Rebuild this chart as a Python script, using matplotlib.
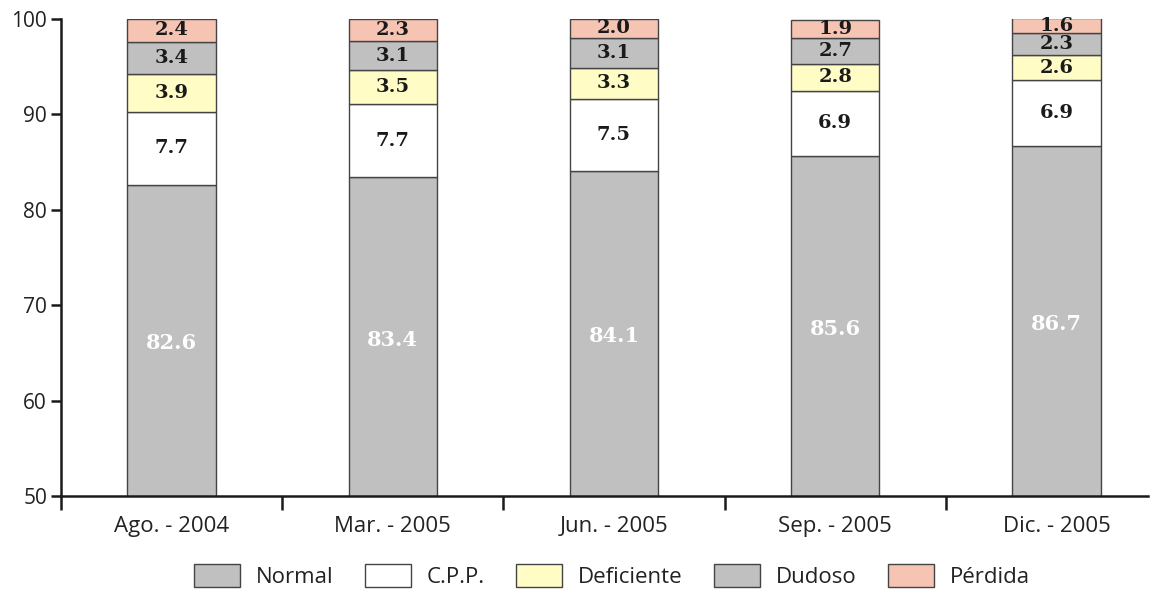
import matplotlib
matplotlib.use("Agg")
import matplotlib.pyplot as plt
import numpy as np

periods = ["Ago. - 2004", "Mar. - 2005", "Jun. - 2005", "Sep. - 2005", "Dic. - 2005"]
series_names = ["Normal", "C.P.P.", "Deficiente", "Dudoso", "Pérdida"]
normal = [82.6, 83.4, 84.1, 85.6, 86.7]
cpp = [7.7, 7.7, 7.5, 6.9, 6.9]
deficiente = [3.9, 3.5, 3.3, 2.8, 2.6]
dudoso = [3.4, 3.1, 3.1, 2.7, 2.3]
perdida = [2.4, 2.3, 2.0, 1.9, 1.6]

colors = ["#c0c0c0", "#ffffff", "#fffcc6", "#c0c0c0", "#f6c4b3"]
series = [normal, cpp, deficiente, dudoso, perdida]

fig = plt.figure(figsize=(11.61, 5.92), dpi=100)
ax = fig.add_axes([0.0525, 0.162, 0.9365, 0.806])

x = np.arange(len(periods))
ymin = 50
bottom = np.zeros(len(periods))
label_font = dict(family="DejaVu Serif", fontweight="bold")
for i, (name, vals, col) in enumerate(zip(series_names, series, colors)):
    vals = np.array(vals)
    ax.bar(x, vals, width=0.4, bottom=bottom, color=col, edgecolor="#444444",
           linewidth=1.0, label=name, zorder=2)
    for xi, b, v in zip(x, bottom, vals):
        lo = max(b, ymin)
        yc = (lo + b + v) / 2
        if i == 0:
            ax.text(xi, yc - 0.3, f"{v:.1f}", ha="center", va="center", color="white",
                    fontsize=15, **label_font)
        else:
            ax.text(xi, yc, f"{v:.1f}", ha="center", va="center", color="#1a1a1a",
                    fontsize=14, **label_font)
    bottom = bottom + vals

ax.set_ylim(50, 100)
ax.set_xlim(-0.5, 4.415)
ax.set_yticks([50, 60, 70, 80, 90, 100])
ax.tick_params(axis="y", labelsize=15, length=7, width=1.8, colors="#1a1a1a",
               labelcolor="#222222", pad=3)
ax.set_xticks([-0.5, 0.5, 1.5, 2.5, 3.5])
ax.set_xticklabels([])
ax.set_xticks(x, minor=True)
ax.set_xticklabels(periods, minor=True, fontsize=16, color="#222222")
ax.tick_params(axis="x", which="major", length=10, width=1.8, direction="out",
               color="#1a1a1a")
ax.tick_params(axis="x", which="minor", length=0, pad=14)
for sp in ["top", "right"]:
    ax.spines[sp].set_visible(False)
for sp in ["left", "bottom"]:
    ax.spines[sp].set_linewidth(1.8)
    ax.spines[sp].set_color("#1a1a1a")

for lab in ax.get_yticklabels() + ax.get_xticklabels(minor=True):
    lab.set_family("Open Sans")

leg = fig.legend(loc="center", bbox_to_anchor=(0.527, 0.027), ncol=5,
                 frameon=False, prop={"family": "Open Sans", "size": 16},
                 handlelength=2.07, handleheight=1.17, columnspacing=1.4,
                 handletextpad=0.72, borderpad=0.1)
for t in leg.get_texts():
    t.set_color("#222222")
fig.savefig("out.png", dpi=100)
